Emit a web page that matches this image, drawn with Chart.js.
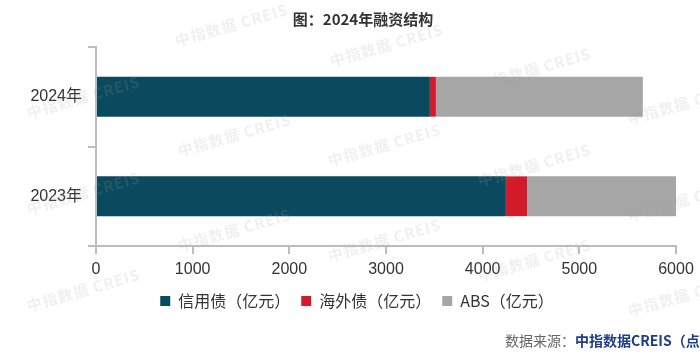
<!DOCTYPE html>
<html>
<head>
<meta charset="utf-8">
<script src="https://cdn.jsdelivr.net/npm/chart.js@4.4.1/dist/chart.umd.min.js"></script>
<style>
  html, body { margin: 0; padding: 0; background: #ffffff; }
  #wrap { position: relative; width: 700px; height: 356px; overflow: hidden; font-family: "Noto Sans CJK SC", "Noto Sans", sans-serif; }
  #c { position: absolute; left: 0; top: 0; }
  .wm { position: absolute; color: rgba(160,160,160,0.16); font-size: 15px; font-weight: bold; white-space: nowrap; transform: rotate(-16deg); transform-origin: left center; pointer-events: none; z-index: 2; letter-spacing: 1px; }
  #source { position: absolute; left: 505px; top: 331px; font-size: 14px; white-space: nowrap; line-height: 18px; }
  #source .g { color: #666666; }
  #source .b { color: #1F3C8C; font-weight: bold; }
</style>
</head>
<body>
<div id="wrap">
  <canvas id="c" width="700" height="356"></canvas>
  <div id="source"><span class="g">数据来源：</span><span class="b">中指数据CREIS（点击查看）</span></div>
</div>
<script>
const categories = ['2024年', '2023年'];
const creditBonds = [3454, 4240];
const overseasBonds = [62, 220];
const absValues = [2141, 1540];
const seriesNames = ['信用债（亿元）', '海外债（亿元）', 'ABS（亿元）'];
const xTicks = [0, 1000, 2000, 3000, 4000, 5000, 6000];
const titleText = '图：2024年融资结构';
const watermarkText = '中指数据 CREIS';

const wmPos = [[27,112],[27,208],[27,305],[175,40],[178,150],[178,245],[330,60],[328,160],[328,255],[478,84],[478,180],[478,275],[628,118],[628,215],[628,310]];
const wrap = document.getElementById('wrap');
wmPos.forEach(p => {
  const d = document.createElement('div');
  d.className = 'wm';
  d.textContent = watermarkText;
  d.style.left = p[0] + 'px';
  d.style.top = (p[1] - 10) + 'px';
  wrap.appendChild(d);
});

const axisColor = '#bdbdbd';
const textColor = '#333333';
const fontFamily = '"Liberation Sans", "Noto Sans CJK SC", sans-serif';
const cjkFamily = '"Noto Sans CJK SC", "Noto Sans", sans-serif';

const shiftBoxes = {
  id: 'shiftBoxes',
  afterLayout(chart) {
    const l = chart.legend;
    if (l) { l.left += 14; l.right += 14; }
    const t = chart.titleBlock;
    if (t) { t.left += 20; t.right += 20; }
  }
};

new Chart(document.getElementById('c'), {
  type: 'bar',
  data: {
    labels: categories,
    datasets: [
      { label: seriesNames[0], data: creditBonds, backgroundColor: '#0B4A5E', borderWidth: 0 },
      { label: seriesNames[1], data: overseasBonds, backgroundColor: '#D11A2A', borderWidth: 0 },
      { label: seriesNames[2], data: absValues, backgroundColor: '#A6A6A6', borderWidth: 0 }
    ]
  },
  plugins: [shiftBoxes],
  options: {
    indexAxis: 'y',
    responsive: false,
    animation: false,
    devicePixelRatio: 1,
    categoryPercentage: 0.8,
    barPercentage: 0.5,
    layout: { padding: { left: 10, right: 24, top: 0, bottom: 37 } },
    scales: {
      x: {
        stacked: true,
        min: 0,
        max: 6000,
        afterBuildTicks: s => { s.ticks = xTicks.map(v => ({ value: v })); },
        afterFit: s => { s.height = 36; },
        grid: { drawOnChartArea: false, drawTicks: true, tickLength: 8, color: axisColor, lineWidth: 2 },
        border: { display: true, color: axisColor, width: 2 },
        ticks: { color: textColor, font: { size: 16, family: fontFamily }, padding: 6, maxRotation: 0, callback: v => String(v) }
      },
      y: {
        stacked: true,
        afterFit: s => { s.width = 86; },
        grid: { drawOnChartArea: false, drawTicks: true, tickLength: 8, color: axisColor, lineWidth: 2, offset: true },
        border: { display: true, color: axisColor, width: 2 },
        ticks: { color: textColor, font: { size: 16, family: fontFamily }, padding: 6 }
      }
    },
    plugins: {
      title: {
        display: true,
        text: titleText,
        color: '#333333',
        font: { size: 15, weight: 'bold', family: cjkFamily },
        padding: { top: 10, bottom: 19 }
      },
      legend: {
        display: true,
        position: 'bottom',
        labels: {
          color: textColor,
          font: { size: 16, family: cjkFamily },
          boxWidth: 10,
          boxHeight: 10,
          padding: 11
        }
      },
      tooltip: { enabled: false }
    }
  }
});
</script>
</body>
</html>
